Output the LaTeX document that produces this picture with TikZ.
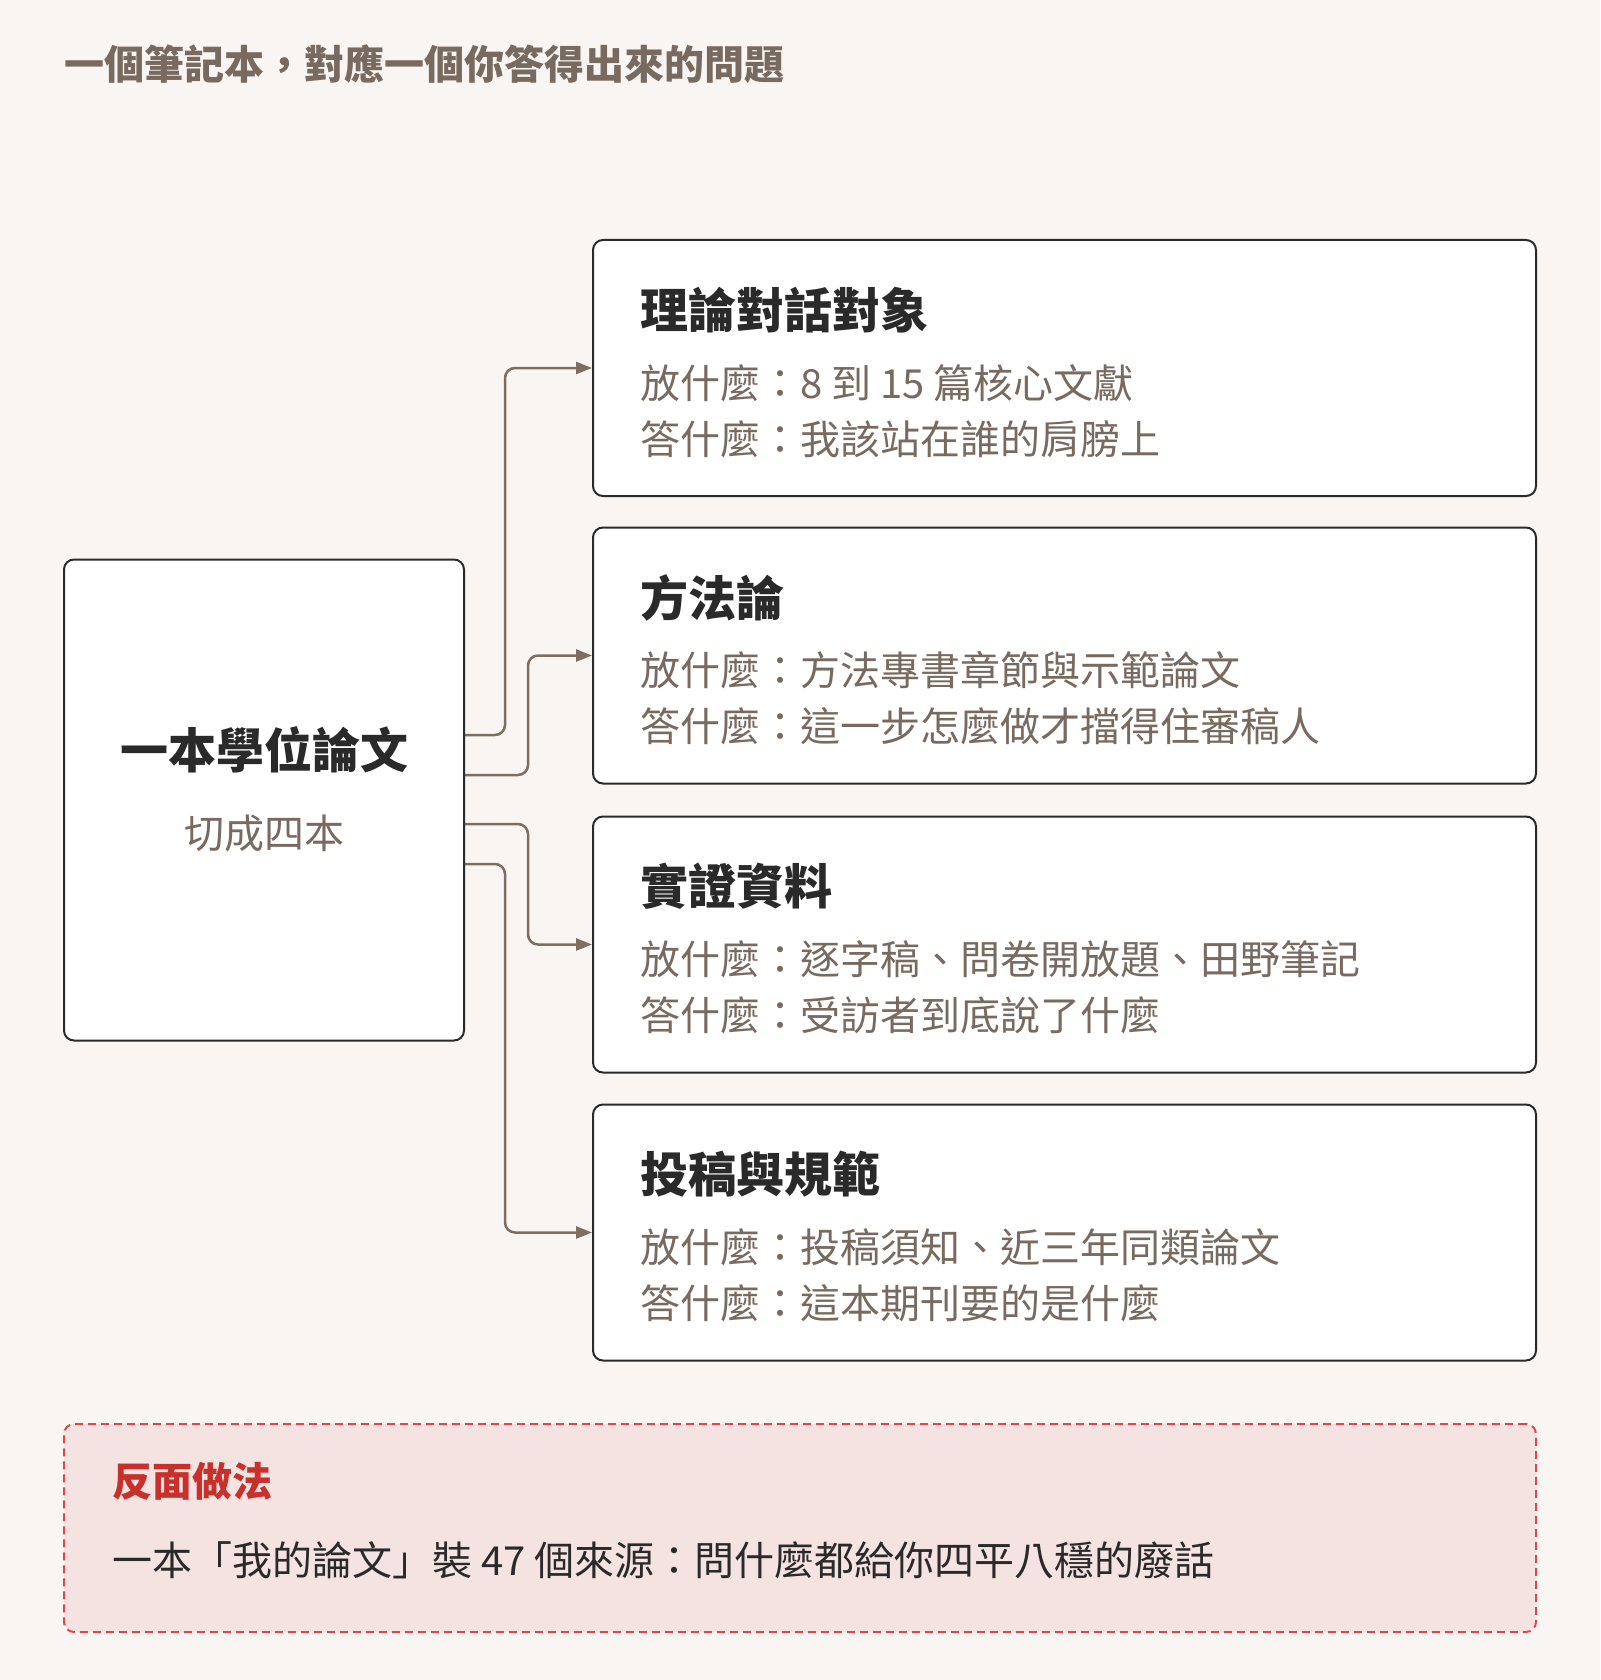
\documentclass[tikz,border=0pt]{standalone}
\usepackage{fontspec}
\setmainfont{Noto Sans CJK TC}
\usepackage{tikz}
\usetikzlibrary{arrows.meta,positioning}

\definecolor{paper}{HTML}{F9F5F2}
\definecolor{ink}{HTML}{2A2A2A}
\definecolor{mute}{HTML}{786A5F}
\definecolor{wire}{HTML}{7D6E62}
\definecolor{warn}{HTML}{C8302C}
\definecolor{warnfill}{HTML}{F5E3E2}
\definecolor{warnline}{HTML}{D84A4A}

\begin{document}
\begin{tikzpicture}[x=1pt,y=-1pt,
		card/.style={draw=ink,fill=white,line width=2pt,rounded corners=10pt,minimum width=943pt,minimum height=256pt,inner sep=0pt},
		headtxt/.style={anchor=west,inner sep=0pt,text=ink,font=\fontsize{48}{56}\selectfont\bfseries},
		linetxt/.style={anchor=west,inner sep=0pt,text=mute,font=\fontsize{40}{48}\selectfont},
		link/.style={draw=wire,line width=2.5pt,rounded corners=10pt,-{Triangle[length=16pt,width=12pt]}}]
		% 底色與邊界
		\fill[paper] (0,0) rectangle (1600,1680);
		\useasboundingbox (0,0) rectangle (1600,1680);
		
		\node[anchor=west,inner sep=0pt,text=mute,font=\fontsize{40}{48}\selectfont\bfseries] (title) at (64,64) {一個筆記本，對應一個你答得出來的問題};
		
		% 左邊總論文
		\node[draw=ink,fill=white,line width=2pt,rounded corners=10pt,minimum width=400pt,minimum height=481pt,inner sep=0pt] (thesis) at (264,800) {};
		\node[inner sep=0pt,text=ink,font=\fontsize{48}{56}\selectfont\bfseries] (thesishead) at (264,750) {一本學位論文};
		\node[inner sep=0pt,text=mute,font=\fontsize{40}{48}\selectfont] (thesissub) at (264,833) {切成四本};
		
		% 右邊四本筆記本
		\node[card] (nb1) at (1064.5,368) {};
		\node[card] (nb2) at (1064.5,655.5) {};
		\node[card] (nb3) at (1064.5,944.5) {};
		\node[card] (nb4) at (1064.5,1232.5) {};
		
		\node[headtxt] (h1) at ([xshift=48pt,yshift=-71pt]nb1.north west) {理論對話對象};
		\node[linetxt] (p1) at ([xshift=48pt,yshift=-144pt]nb1.north west) {放什麼：8 到 15 篇核心文獻};
		\node[linetxt] (a1) at ([xshift=48pt,yshift=-200pt]nb1.north west) {答什麼：我該站在誰的肩膀上};
		
		\node[headtxt] (h2) at ([xshift=48pt,yshift=-71pt]nb2.north west) {方法論};
		\node[linetxt] (p2) at ([xshift=48pt,yshift=-144pt]nb2.north west) {放什麼：方法專書章節與示範論文};
		\node[linetxt] (a2) at ([xshift=48pt,yshift=-200pt]nb2.north west) {答什麼：這一步怎麼做才擋得住審稿人};
		
		\node[headtxt] (h3) at ([xshift=48pt,yshift=-71pt]nb3.north west) {實證資料};
		\node[linetxt] (p3) at ([xshift=48pt,yshift=-144pt]nb3.north west) {放什麼：逐字稿、問卷開放題、田野筆記};
		\node[linetxt] (a3) at ([xshift=48pt,yshift=-200pt]nb3.north west) {答什麼：受訪者到底說了什麼};
		
		\node[headtxt] (h4) at ([xshift=48pt,yshift=-71pt]nb4.north west) {投稿與規範};
		\node[linetxt] (p4) at ([xshift=48pt,yshift=-144pt]nb4.north west) {放什麼：投稿須知、近三年同類論文};
		\node[linetxt] (a4) at ([xshift=48pt,yshift=-200pt]nb4.north west) {答什麼：這本期刊要的是什麼};
		
		% 連線
		\path[link] ([yshift=65pt]thesis.east) -- ++(40,0) |- (nb1.west);
		\path[link] ([yshift=25pt]thesis.east) -- ++(63,0) |- (nb2.west);
		\path[link] ([yshift=-24pt]thesis.east) -- ++(63,0) |- (nb3.west);
		\path[link] ([yshift=-64pt]thesis.east) -- ++(40,0) |- (nb4.west);
		
		% 反面做法
		\node[draw=warnline,fill=warnfill,line width=2pt,dash pattern=on 8pt off 5pt,rounded corners=10pt,minimum width=1472pt,minimum height=208pt,inner sep=0pt] (wrong) at (800,1528) {};
		\node[anchor=west,inner sep=0pt,text=warn,font=\fontsize{40}{48}\selectfont\bfseries] (wronghead) at ([xshift=49pt,yshift=-58pt]wrong.north west) {反面做法};
		\node[anchor=west,inner sep=0pt,text=ink,font=\fontsize{40}{48}\selectfont] (wrongtxt) at ([xshift=49pt,yshift=-137pt]wrong.north west) {一本「我的論文」裝 47 個來源：問什麼都給你四平八穩的廢話};
		\end{tikzpicture}
\end{document}
